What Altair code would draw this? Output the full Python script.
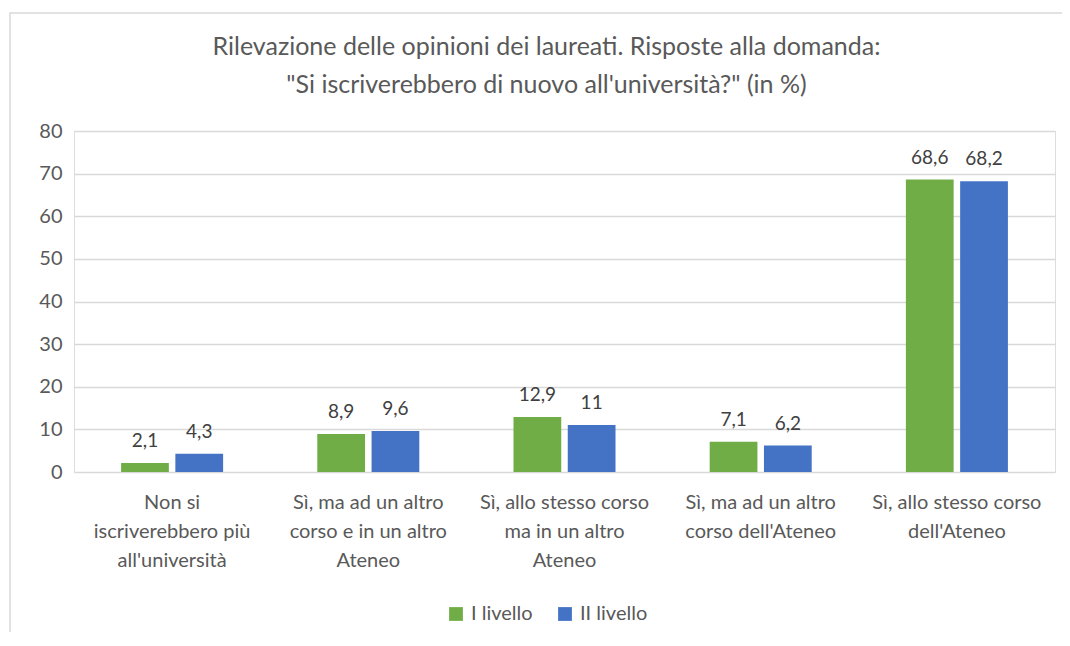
import altair as alt
import pandas as pd

categories = [
    "Non si\niscriverebbero più\nall'università",
    "Sì, ma ad un altro\ncorso e in un altro\nAteneo",
    "Sì, allo stesso corso\nma in un altro\nAteneo",
    "Sì, ma ad un altro\ncorso dell'Ateneo",
    "Sì, allo stesso corso\ndell'Ateneo",
]
series = ["I livello", "II livello"]
values_I = [2.1, 8.9, 12.9, 7.1, 68.6]
values_II = [4.3, 9.6, 11, 6.2, 68.2]
colors = ["#70AD47", "#4472C4"]

rows = []
for c, a, b in zip(categories, values_I, values_II):
    rows.append({"cat": c, "serie": series[0], "val": a, "lab": str(a).replace(".", ",")})
    rows.append({"cat": c, "serie": series[1], "val": b, "lab": str(b).replace(".", ",")})
df = pd.DataFrame(rows)

FONT = "Lato"
TXT = "#595959"

base = alt.Chart(df).encode(
    x=alt.X(
        "cat:N",
        sort=categories,
        title=None,
        scale=alt.Scale(paddingInner=0.48, paddingOuter=0.24),
        axis=alt.Axis(
            labelAngle=0,
            labelExpr="split(datum.label, '\\n')",
            labelLineHeight=29,
            labelFontSize=20,
            labelColor=TXT,
            labelFont=FONT,
            labelPadding=20,
            labelBaseline="top",
            domain=False,
            ticks=False,
        ),
    ),
    xOffset=alt.XOffset("serie:N", sort=series, scale=alt.Scale(paddingInner=0.12)),
)

bars = base.mark_bar().encode(
    y=alt.Y(
        "val:Q",
        title=None,
        scale=alt.Scale(domain=[0, 80]),
        axis=alt.Axis(
            values=list(range(0, 81, 10)),
            labelFontSize=20,
            labelColor=TXT,
            labelFont=FONT,
            labelPadding=12,
            domain=False,
            ticks=False,
            gridColor="#D9D9D9",
            gridWidth=1.3,
        ),
    ),
    color=alt.Color(
        "serie:N",
        sort=series,
        scale=alt.Scale(domain=series, range=colors),
        legend=alt.Legend(
            title=None,
            orient="none",
            direction="horizontal",
            legendX=372,
            legendY=473,
            symbolType="square",
            symbolSize=190,
            symbolStrokeWidth=0,
            labelFontSize=20,
            labelColor=TXT,
            labelFont=FONT,
            labelOffset=5,
            columnPadding=22,
        ),
    ),
)

labels = base.mark_text(
    baseline="alphabetic", dy=-16, fontSize=19, font=FONT, color="#404040"
).encode(y="val:Q", text="lab:N")

border = alt.Chart(pd.DataFrame({"b": [0]})).mark_rect(
    fill=None, stroke="#D9D9D9", strokeWidth=1.5
).encode(
    x=alt.value(-64), x2=alt.value(1010), y=alt.value(-118), y2=alt.value(530)
)

chart = (
    alt.layer(border, bars, labels)
    .properties(
        width=981,
        height=341,
        padding={"left": 66, "top": 123, "right": 7, "bottom": 160},
        autosize=alt.AutoSizeParams(type="none"),
        title=alt.TitleParams(
            text=[
                "Rilevazione delle opinioni dei laureati. Risposte alla domanda:",
                '"Si iscriverebbero di nuovo all\'università?" (in %)',
            ],
            fontSize=25,
            font=FONT,
            fontWeight="normal",
            color=TXT,
            lineHeight=38,
            anchor="middle",
            dx=-18,
            offset=-86,
        ),
    )
    .configure_view(strokeWidth=0)
    .configure(background="white")
)

chart.save("out.html", embed_options={"renderer": "svg", "actions": False})
